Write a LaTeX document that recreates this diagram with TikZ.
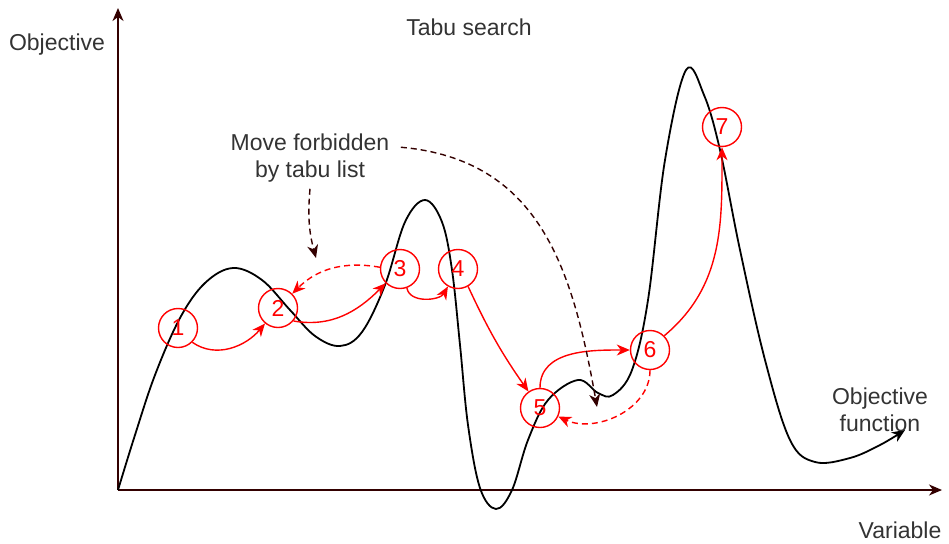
\documentclass[tikz,border=0pt]{standalone}
\usepackage{fontspec}
\setmainfont{Liberation Sans}
\usetikzlibrary{arrows.meta}
\definecolor{axisbrown}{RGB}{51,0,0}
\definecolor{textgray}{RGB}{51,51,51}
\begin{document}
\begin{tikzpicture}[x=1pt, y=-1pt, >={Stealth[length=13pt, width=11pt, inset=4pt]},
    every node/.style={font=\fontsize{23}{27}\selectfont, text=textgray},
    state/.style={circle, draw=red, line width=1.4pt, minimum size=39pt, inner sep=0pt, text=red},
    move/.style={->, red, line width=1.4pt},
    tabu/.style={->, red, line width=1.4pt, dash pattern=on 6pt off 4pt},
    hint/.style={->, axisbrown, line width=1.4pt, dash pattern=on 6pt off 4pt}]

            \useasboundingbox (0,0) rectangle (949,543);

            % Axes
            \coordinate (O) at (118,490);
            \coordinate (ytop) at (118,8);
            \coordinate (xend) at (942,490);
            \draw[->, axisbrown, line width=1.5pt] (O) -- (ytop);
            \draw[->, axisbrown, line width=1.5pt] (O) -- (xend);
            \node (ylab) at (57,45) {Objective};
            \node (xlab) at (900,530) {Variable};
            \node (title) at (469,27) {Tabu search};

            % Objective function
            \draw[->, line width=1.8pt] plot[smooth, tension=0.6] coordinates {
              (118,490) (135,435) (155,375) (180,318) (205,283) (233,268)
              (262,280) (290,310) (315,336) (340,346) (362,332) (385,285)
              (405,222) (425,200) (442,222) (452,270) (460,345) (468,425)
              (480,488) (496,509) (512,490) (528,440) (548,400) (578,380)
              (598,393) (613,395) (632,370) (648,300) (665,160) (686,70)
              (704,95) (720,150) (740,250) (765,360) (790,440) (815,462)
              (850,458) (880,445) (905,430)};
            \node[align=center] (fname) at (880,410) {Objective\\function};

            % Visited solutions
            \node[state] (s1) at (178,328) {1};
            \node[state] (s2) at (278,308) {2};
            \node[state] (s3) at (400,269) {3};
            \node[state] (s4) at (458,269) {4};
            \node[state] (s5) at (540,408) {5};
            \node[state] (s6) at (650,350) {6};
            \node[state] (s7) at (722,127) {7};

            % Moves
            \draw[move] (s1.-45) to[out=-35, in=-130] (s2);
            \draw[move] (s2.-40) to[out=-10, in=-135] (s3);
            \draw[move] (s3.-70) to[out=-80, in=-120] (s4);
            \draw[move] (s4.-60) to[out=-65, in=125] (s5);
            \draw[move] (s5.90) to[out=90, in=180] (s6);
            \draw[move] (s6.45) to[out=40, in=-90] (s7);

            % Forbidden moves
            \draw[tabu] (s3.175) to[out=170, in=45] (s2);
            \draw[tabu] (s6.-90) to[out=-90, in=-25] (s5);

            % Note
            \node[align=center] (forbid) at (310,158) {Move forbidden\\by tabu list};
            \coordinate (t23) at (316,258);
            \coordinate (t65) at (597,407);
            \draw[hint] ([yshift=-3pt]forbid.south) to[out=-95, in=105] (t23);
            \draw[hint] ([xshift=8pt, yshift=-17pt]forbid.north east) to[out=-5, in=100, looseness=1.1] (t65);

        \end{tikzpicture}
\end{document}
